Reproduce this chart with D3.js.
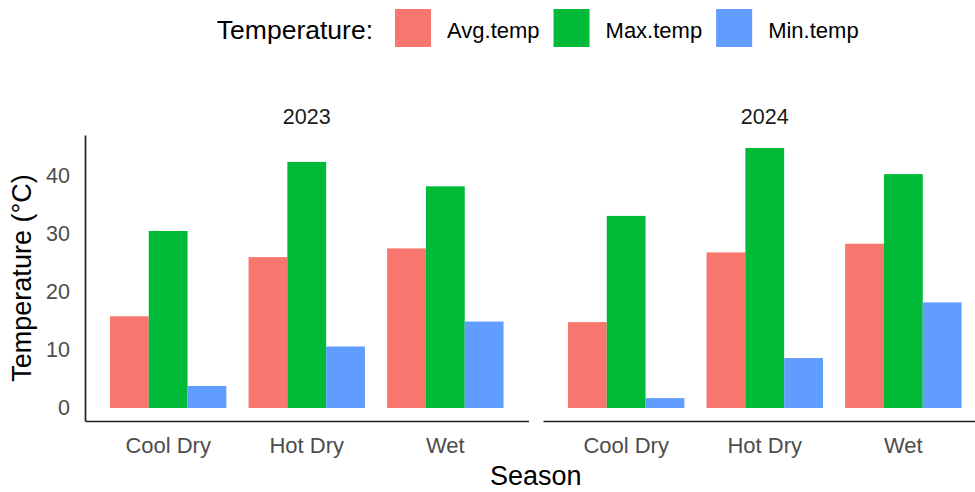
<!DOCTYPE html>
<html>
<head>
<meta charset="utf-8">
<script src="https://cdn.jsdelivr.net/npm/d3@7"></script>
<style>
    body { margin: 0; background: #fff; }
    text { font-family: "Liberation Sans", Arial, sans-serif; }
</style>
</head>
<body>
<div id="wrapper"></div>
<script>
// data
const seasons = ['Cool Dry', 'Hot Dry', 'Wet'];
const years = ['2023', '2024'];
const series = ['Avg.temp', 'Max.temp', 'Min.temp'];
const seriesColors = ['#F8766D', '#00BA38', '#619CFF'];

const avg2023 = [15.8, 26.0, 27.5];
const max2023 = [30.5, 42.4, 38.2];
const min2023 = [3.8, 10.6, 14.9];
const avg2024 = [14.8, 26.8, 28.3];
const max2024 = [33.1, 44.8, 40.3];
const min2024 = [1.7, 8.6, 18.2];

const yTicks = [0, 10, 20, 30, 40];

const valuesByYear = {
    '2023': [avg2023, max2023, min2023],
    '2024': [avg2024, max2024, min2024],
};

const rows = [];
years.forEach(year => {
    valuesByYear[year].forEach((vals, si) => {
        vals.forEach((v, ci) => rows.push({ year, season: seasons[ci], series: series[si], value: v }));
    });
});

// set up dimensions
let dimensions = {
    width: 975,
    height: 492,
    panelTop: 135,
    panelBottom: 421,
    panels: [[85, 528.5], [543, 986.5]],
};

const wrapper = d3.select('#wrapper')
    .append('svg')
    .attr('width', dimensions.width)
    .attr('height', dimensions.height);

// y scale with ggplot style 5% expansion
const yMax = d3.max(rows, d => d.value);
const pad = yMax * 0.05;
const y = d3.scaleLinear()
    .domain([-pad, yMax + pad])
    .range([dimensions.panelBottom, dimensions.panelTop]);

const color = d3.scaleOrdinal().domain(series).range(seriesColors);

years.forEach((year, pi) => {
    const [x0, x1] = dimensions.panels[pi];
    const x = d3.scaleBand()
        .domain(seasons)
        .range([x0, x1])
        .paddingInner(0.16)
        .paddingOuter(0.18);
    const xInner = d3.scaleBand()
        .domain(series)
        .range([0, x.bandwidth()]);

    const panel = wrapper.append('g');

    panel.selectAll('rect')
        .data(rows.filter(d => d.year === year))
        .join('rect')
        .attr('x', d => x(d.season) + xInner(d.series))
        .attr('width', xInner.bandwidth())
        .attr('y', d => y(d.value))
        .attr('height', d => y(0) - y(d.value))
        .attr('fill', d => color(d.series));

    // x axis: line + labels, no ticks
    const xAxis = panel.append('g')
        .attr('transform', `translate(0, ${dimensions.panelBottom})`)
        .call(d3.axisBottom(x).tickSize(0).tickPadding(16));
    xAxis.select('.domain').attr('stroke', '#222').attr('stroke-width', 1.7);
    xAxis.selectAll('text')
        .attr('fill', '#4d4d4d')
        .attr('font-size', 22)
        .attr('dy', '0.71em');

    // strip label
    panel.append('text')
        .attr('x', (x0 + x1) / 2)
        .attr('y', 123.5)
        .attr('text-anchor', 'middle')
        .attr('font-size', 21.5)
        .attr('fill', '#1a1a1a')
        .text(year);

    if (pi === 0) {
        const yAxis = panel.append('g')
            .attr('transform', `translate(${x0}, 0)`)
            .call(d3.axisLeft(y).tickValues(yTicks).tickSize(0).tickPadding(15));
        yAxis.select('.domain').attr('stroke', '#222').attr('stroke-width', 1.7);
        yAxis.selectAll('text')
            .attr('fill', '#4d4d4d')
            .attr('font-size', 21.5);
    }
});

// axis titles
const plotCenter = (dimensions.panels[0][0] + dimensions.panels[1][1]) / 2;
wrapper.append('text')
    .attr('x', plotCenter)
    .attr('y', 485)
    .attr('text-anchor', 'middle')
    .attr('font-size', 27)
    .attr('fill', '#000')
    .text('Season');

wrapper.append('text')
    .attr('transform', `translate(31, ${(dimensions.panelTop + dimensions.panelBottom) / 2}) rotate(-90)`)
    .attr('text-anchor', 'middle')
    .attr('font-size', 27)
    .attr('fill', '#000')
    .text('Temperature (°C)');

// legend on top, laid out left to right then centred
const legend = wrapper.append('g');
let cursor = 0;
const title = legend.append('text')
    .attr('x', cursor)
    .attr('y', 39)
    .attr('font-size', 26.5)
    .attr('fill', '#000')
    .text('Temperature:');
cursor += title.node().getComputedTextLength() + 22;

series.forEach(s => {
    legend.append('rect')
        .attr('x', cursor)
        .attr('y', 9)
        .attr('width', 36)
        .attr('height', 38)
        .attr('fill', color(s));
    cursor += 36 + 16;
    const label = legend.append('text')
        .attr('x', cursor)
        .attr('y', 37.5)
        .attr('font-size', 22)
        .attr('fill', '#000')
        .text(s);
    cursor += label.node().getComputedTextLength() + 14;
});
cursor -= 14;
legend.attr('transform', `translate(${plotCenter - cursor / 2 + 2}, 0)`);
</script>
</body>
</html>
